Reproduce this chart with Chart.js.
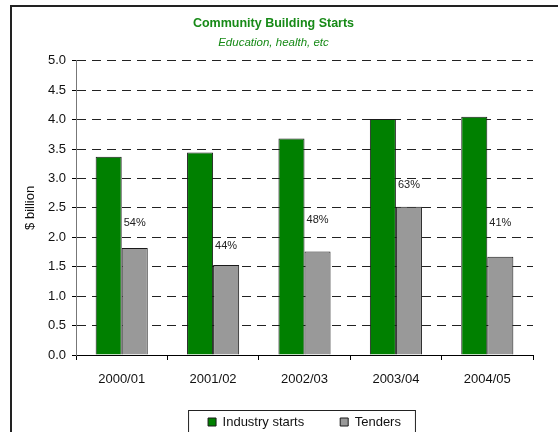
<!DOCTYPE html>
<html>
<head>
<meta charset="utf-8">
<script src="https://cdn.jsdelivr.net/npm/chart.js@4"></script>
<style>
  html, body { margin: 0; padding: 0; background: #fff; }
  #wrap { width: 558px; height: 432px; }
</style>
</head>
<body>
<div id="wrap"><canvas id="chart" width="558" height="432"></canvas></div>
<script>
// Community building starts vs tenders, $ billion
const years = ['2000/01', '2001/02', '2002/03', '2003/04', '2004/05'];
const industryStarts = [3.37, 3.44, 3.68, 4.01, 4.05];
const tenders = [1.82, 1.53, 1.76, 2.52, 1.67];
const tenderShare = ['54%', '44%', '48%', '63%', '41%'];
const shareLabelAt = [2.25, 1.85, 2.30, 2.89, 2.25]; // $bn height where each % label sits

const FONT = "'Liberation Sans', Arial, sans-serif";
const GREEN_TEXT = '#178a17';

// outer frame (right and bottom edges run off the picture)
const framePlugin = {
    id: 'frame',
    beforeDraw(chart) {
        const ctx = chart.ctx;
        ctx.save();
        ctx.fillStyle = '#fff';
        ctx.fillRect(0, 0, chart.width, chart.height);
        ctx.strokeStyle = '#222';
        ctx.lineWidth = 2;
        ctx.strokeRect(11, 6, chart.width + 20, chart.height + 20);
        ctx.restore();
    }
};

// x labels sit lower than the squeezed x box, so let them draw past it
const unclipPlugin = {
    id: 'unclip',
    afterLayout(chart) {
        chart.scales.x.bottom = chart.height;
    }
};

// % labels over the tender bars
const sharePlugin = {
    id: 'share',
    afterDatasetsDraw(chart) {
        const ctx = chart.ctx;
        const meta = chart.getDatasetMeta(1);
        const y = chart.scales.y;
        ctx.save();
        ctx.font = '11px ' + FONT;
        ctx.fillStyle = '#222';
        ctx.textAlign = 'center';
        ctx.textBaseline = 'middle';
        meta.data.forEach((bar, i) => {
            ctx.fillText(tenderShare[i], bar.x, y.getPixelForValue(shareLabelAt[i]));
        });
        ctx.restore();
    }
};

// box round the legend
const legendFramePlugin = {
    id: 'legendFrame',
    afterDraw(chart) {
        const boxes = chart.legend.legendHitBoxes;
        if (!boxes || !boxes.length) return;
        const first = boxes[0], last = boxes[boxes.length - 1];
        const ctx = chart.ctx;
        const midY = first.top + first.height / 2;
        ctx.save();
        ctx.strokeStyle = '#222';
        ctx.lineWidth = 1;
        ctx.strokeRect(first.left - 19.5, midY - 11.5, last.left + last.width - first.left + 34, 40);
        ctx.restore();
    }
};

new Chart(document.getElementById('chart'), {
    type: 'bar',
    data: {
        labels: years,
        datasets: [
            { label: 'Industry starts', data: industryStarts, backgroundColor: '#008000', borderColor: '#1a1a1a', borderWidth: 1 },
            { label: 'Tenders', data: tenders, backgroundColor: '#999999', borderColor: '#1a1a1a', borderWidth: 1 }
        ]
    },
    options: {
        responsive: false,
        animation: false,
        devicePixelRatio: 1,
        categoryPercentage: 0.57,
        barPercentage: 1.0,
        layout: { padding: { top: 9, left: 14, right: 25, bottom: -6.5 } },
        plugins: {
            title: { display: true, text: 'Community Building Starts', color: GREEN_TEXT,
                     font: { family: FONT, size: 12.5, weight: 'bold' }, padding: { top: 7, bottom: 3 } },
            subtitle: { display: true, text: 'Education, health, etc', color: GREEN_TEXT,
                        font: { family: FONT, size: 11.5, style: 'italic' }, padding: { top: 2, bottom: 11 } },
            legend: { position: 'bottom', fullSize: false,
                      labels: { boxWidth: 8, boxHeight: 8, padding: 36, color: '#111', font: { family: FONT, size: 13 } } },
            tooltip: { enabled: false }
        },
        scales: {
            x: {
                grid: { drawOnChartArea: false, drawTicks: true, tickLength: 5, color: '#000', offset: true },
                border: { color: '#000', width: 1 },
                ticks: { color: '#111', font: { family: FONT, size: 13 }, padding: 12, maxRotation: 0 },
                afterFit: s => { s.height = 24.5; }
            },
            y: {
                min: 0, max: 5,
                ticks: { stepSize: 0.5, callback: v => v.toFixed(1), padding: 6, color: '#111', font: { family: FONT, size: 13 } },
                grid: { color: '#222', lineWidth: 1, tickLength: 4, tickColor: '#000', tickBorderDash: [] },
                border: { dash: [9, 6], color: '#777', width: 1 },
                title: { display: true, text: '$ billion', color: '#111', font: { family: FONT, size: 13 }, padding: { top: 9, bottom: 0 } },
                afterFit: s => { s.width = 62; }
            }
        }
    },
    plugins: [framePlugin, unclipPlugin, sharePlugin, legendFramePlugin]
});
</script>
</body>
</html>
